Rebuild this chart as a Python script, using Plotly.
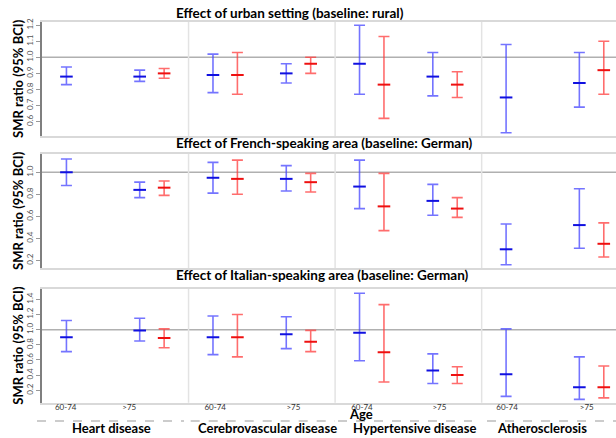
import plotly.graph_objects as go

W, H = 616, 438

groups = ["Heart disease", "Cerebrovascular disease", "Hypertensive disease", "Atherosclerosis"]
ages = ["60-74", ">75"]

panel_titles = [
    "Effect of urban setting (baseline: rural)",
    "Effect of French-speaking area (baseline: German)",
    "Effect of Italian-speaking area (baseline: German)",
]

# order: Heart 60-74, Heart >75, Cerebro 60-74, Cerebro >75, Hyper 60-74, Hyper >75, Athero 60-74, Athero >75
urban_blue_est = [0.88, 0.88, 0.89, 0.90, 0.96, 0.88, 0.75, 0.84]
urban_blue_lo = [0.83, 0.85, 0.78, 0.84, 0.77, 0.76, 0.53, 0.69]
urban_blue_hi = [0.94, 0.92, 1.02, 0.96, 1.20, 1.03, 1.08, 1.03]
urban_red_est = [None, 0.90, 0.89, 0.96, 0.83, 0.83, None, 0.92]
urban_red_lo = [None, 0.87, 0.77, 0.90, 0.62, 0.75, None, 0.77]
urban_red_hi = [None, 0.93, 1.03, 1.00, 1.13, 0.91, None, 1.10]

french_blue_est = [1.00, 0.84, 0.95, 0.94, 0.87, 0.74, 0.30, 0.52]
french_blue_lo = [0.88, 0.77, 0.81, 0.83, 0.67, 0.61, 0.16, 0.31]
french_blue_hi = [1.12, 0.91, 1.09, 1.06, 1.11, 0.89, 0.53, 0.85]
french_red_est = [None, 0.86, 0.94, 0.91, 0.69, 0.67, None, 0.35]
french_red_lo = [None, 0.79, 0.80, 0.82, 0.47, 0.59, None, 0.23]
french_red_hi = [None, 0.92, 1.11, 0.99, 0.99, 0.77, None, 0.54]

italian_blue_est = [0.90, 0.99, 0.90, 0.94, 0.96, 0.46, 0.41, 0.24]
italian_blue_lo = [0.71, 0.85, 0.67, 0.75, 0.59, 0.29, 0.12, 0.08]
italian_blue_hi = [1.12, 1.15, 1.18, 1.17, 1.48, 0.68, 1.01, 0.64]
italian_red_est = [None, 0.89, 0.90, 0.84, 0.70, 0.40, None, 0.24]
italian_red_lo = [None, 0.76, 0.64, 0.71, 0.31, 0.29, None, 0.10]
italian_red_hi = [None, 1.01, 1.20, 0.99, 1.33, 0.51, None, 0.52]

panels = [
    (urban_blue_est, urban_blue_lo, urban_blue_hi, urban_red_est, urban_red_lo, urban_red_hi),
    (french_blue_est, french_blue_lo, french_blue_hi, french_red_est, french_red_lo, french_red_hi),
    (italian_blue_est, italian_blue_lo, italian_blue_hi, italian_red_est, italian_red_lo, italian_red_hi),
]

y_ranges = [[0.51, 1.22], [0.13, 1.166], [0.036, 1.54]]
y_ticks = [
    [0.6, 0.7, 0.8, 0.9, 1.0, 1.1, 1.2],
    [0.2, 0.4, 0.6, 0.8, 1.0],
    [0.2, 0.4, 0.6, 0.8, 1.0, 1.2, 1.4],
]
# pixel top/bottom of each plot area
panel_px = [(22, 136), (154, 268), (288.7, 402.7)]
title_px_y = [13, 142.7, 275]

# age tick label positions (x units)
age_tick_x = [0.97, 3.57, 7.09, 10.29, 13.1, 16.27, 19.04, 22.3]
age_tick_text = [a for g in groups for a in ages]

# slot positions: each disease group spans 6 units
def slot_x(i, series):
    g, a = divmod(i, 2)
    return g * 6 + (1 if a == 0 else 4) + series

BLUE_BAR = "rgba(70,70,255,0.75)"
BLUE_MK = "#1010e0"
RED_BAR = "rgba(255,60,60,0.75)"
RED_MK = "#ee1010"

fig = go.Figure()
x_dom = [42 / W, 1.0]

for p, (be, bl, bh, re_, rl, rh) in enumerate(panels):
    xa = "x" if p == 0 else f"x{p+1}"
    ya = "y" if p == 0 else f"y{p+1}"
    for series, (est, lo, hi, bar, mk) in enumerate([(be, bl, bh, BLUE_BAR, BLUE_MK), (re_, rl, rh, RED_BAR, RED_MK)]):
        xs, ys, up, dn = [], [], [], []
        for i, v in enumerate(est):
            if v is None:
                continue
            xs.append(slot_x(i, series))
            ys.append(v)
            up.append(hi[i] - v)
            dn.append(v - lo[i])
        fig.add_trace(go.Scatter(
            x=xs, y=ys, mode="markers", xaxis=xa, yaxis=ya, showlegend=False,
            marker=dict(symbol="line-ew", size=9, line=dict(width=2, color=mk), color=mk),
            error_y=dict(type="data", array=up, arrayminus=dn, symmetric=False,
                         color=bar, thickness=1.6, width=5.5),
        ))
    top, bot = panel_px[p]
    dom = [(H - bot) / H, (H - top) / H]
    xkey = "xaxis" if p == 0 else f"xaxis{p+1}"
    ykey = "yaxis" if p == 0 else f"yaxis{p+1}"
    xdict = dict(domain=x_dom, range=[0, 23.5], anchor=ya, showgrid=False, zeroline=False,
                 showline=True, mirror=True, linecolor="#d9d9d9", linewidth=2, automargin=False,
                 ticks="", showticklabels=False, fixedrange=True)
    if p == 2:
        xdict.update(showticklabels=True, tickmode="array", tickvals=age_tick_x,
                     ticktext=age_tick_text, ticklabelstandoff=-4,
                     tickfont=dict(family="Lato", size=8, color="#333"))
    fig.update_layout({
        xkey: xdict,
        ykey: dict(domain=dom, range=y_ranges[p], anchor=xa, showgrid=False, zeroline=False,
                   showline=True, linecolor="#7f7f7f", linewidth=2, automargin=False,
                   tickmode="array", tickvals=y_ticks[p], tickformat=".1f",
                   ticks="outside", ticklen=4, tickcolor="#999", tickangle=-90,
                   tickfont=dict(family="Lato", size=8, color="#555")),
    })
    # reference line at 1.0
    fig.add_shape(type="line", xref=f"{xa} domain", yref=ya, x0=0, x1=1, y0=1.0, y1=1.0,
                  line=dict(color="#b0b0b0", width=1.5), layer="below")
    # group separators
    for gx in [6, 12, 18]:
        fig.add_shape(type="line", xref=xa, yref=f"{ya} domain", x0=gx, x1=gx, y0=0, y1=1,
                      line=dict(color="#e3e3e3", width=1.5), layer="below")
    fig.add_annotation(text=f"<b>{panel_titles[p]}</b>", xref="paper", yref="paper",
                       x=174 / W, y=(H - title_px_y[p]) / H, xanchor="left", yanchor="middle",
                       showarrow=False, font=dict(family="Lato", size=13.5, color="#000"))
    fig.add_annotation(text="<b>SMR ratio (95% BCI)</b>", xref="paper", yref="paper",
                       x=18 / W, y=(H - (top + bot) / 2) / H, textangle=-90,
                       xanchor="center", yanchor="middle", showarrow=False,
                       font=dict(family="Lato", size=13, color="#000"))

fig.add_annotation(text="<b>Age</b>", xref="paper", yref="paper", x=361 / W, y=(H - 413.5) / H,
                   xanchor="center", yanchor="middle", showarrow=False,
                   font=dict(family="Lato", size=13, color="#000"))

seg_px = [(37, 184), (190.7, 335), (338, 472), (487, 616)]
label_px = [111.7, 267, 414, 542]
for g, name in enumerate(groups):
    x0, x1 = seg_px[g]
    fig.add_shape(type="line", xref="paper", yref="paper", x0=x0 / W, x1=x1 / W,
                  y0=(H - 421) / H, y1=(H - 421) / H, line=dict(color="#999", width=1.2, dash="dash"))
    fig.add_annotation(text=f"<b>{name}</b>", xref="paper", yref="paper", x=label_px[g] / W,
                       y=(H - 428) / H, xanchor="center", yanchor="middle", showarrow=False,
                       font=dict(family="Lato", size=13, color="#000"))

fig.update_layout(width=W, height=H, margin=dict(l=0, r=0, t=0, b=0, autoexpand=False),
                  paper_bgcolor="white", plot_bgcolor="white", showlegend=False)

fig.write_html("out.html", config={"displayModeBar": False},
               post_script="document.body.style.margin='0px';")
